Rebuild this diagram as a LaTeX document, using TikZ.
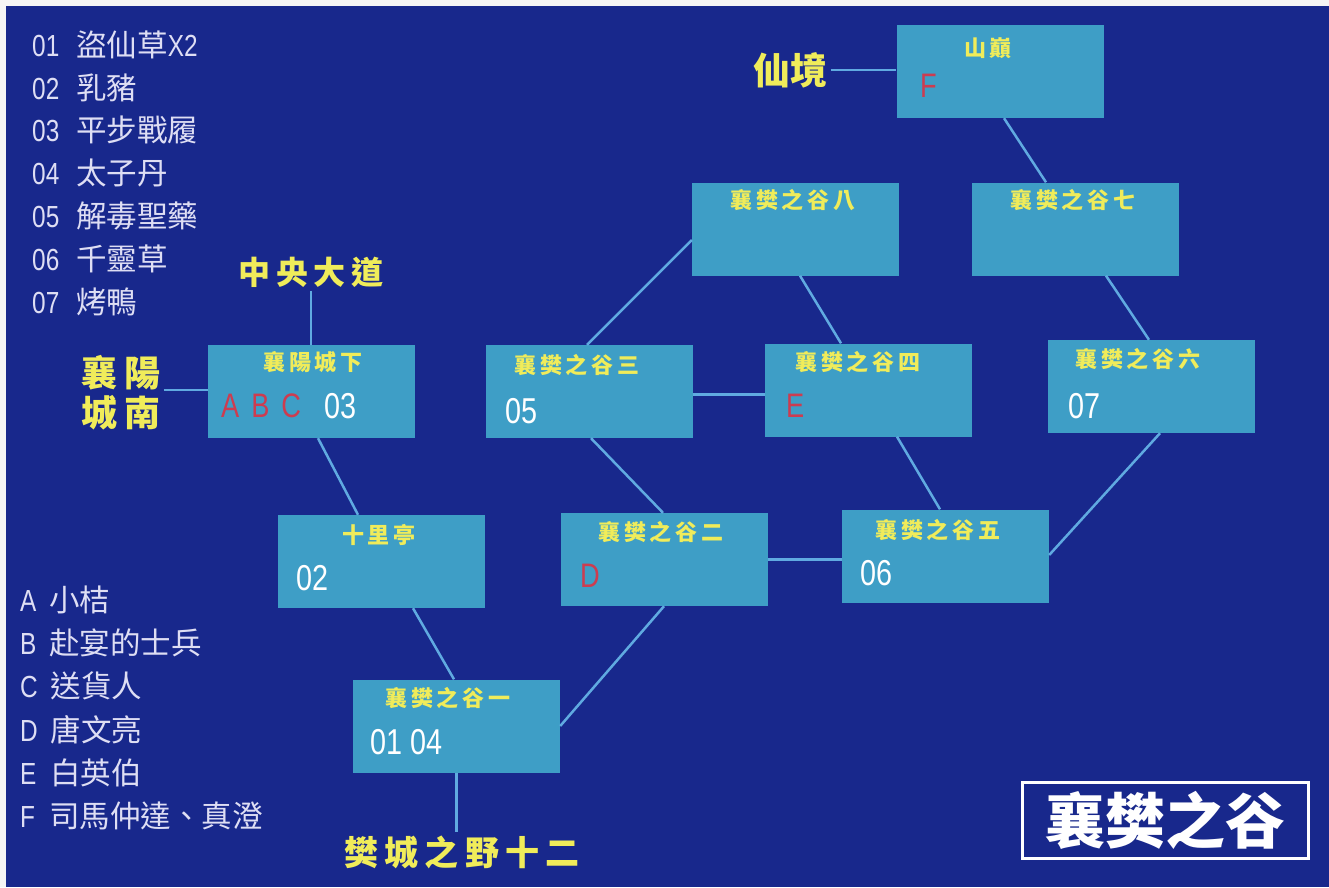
\documentclass[tikz,border=0pt]{standalone}
\usepackage{fontspec}
\setmainfont{Noto Sans CJK TC}
\newfontfamily\spaced[LetterSpace=18]{Noto Sans CJK TC}
\newfontfamily\narrow[FakeStretch=0.8]{Liberation Sans}
\usetikzlibrary{positioning}

\definecolor{bgblue}{RGB}{24,40,140}
\definecolor{boxblue}{RGB}{62,158,198}
\definecolor{linkblue}{RGB}{96,170,225}
\definecolor{gold}{RGB}{240,236,90}
\definecolor{pale}{RGB}{222,222,244}
\definecolor{tagred}{RGB}{205,60,80}

\tikzset{
  room/.style={fill=boxblue, minimum width=207pt, minimum height=93pt, inner sep=0pt},
  ttl/.style={text=gold, inner sep=0pt, font=\spaced\bfseries\fontsize{22}{22}\selectfont},
  num/.style={text=white, anchor=west, inner sep=0pt, font=\narrow\fontsize{36}{36}\selectfont},
  tag/.style={text=tagred, anchor=west, inner sep=0pt, font=\narrow\fontsize{34}{34}\selectfont},
  place/.style={text=gold, font=\spaced\bfseries\fontsize{32}{32}\selectfont},
  legend/.style={text=pale, anchor=west, inner sep=0pt, font=\fontsize{30.5}{30.5}\selectfont}
}
\tikzset{link/.style={draw=linkblue, line width=2.5pt}}

\begin{document}
\begin{tikzpicture}[x=1pt,y=-1pt]
\fill[gray!8] (0,0) rectangle (1329,887);
\fill[bgblue] (6,6) rectangle (1329,887);
\useasboundingbox (0,0) rectangle (1329,887);

% item list
\node[legend] (i1) at (32,45)  {{\narrow 01}\hspace{17pt}盜仙草{\narrow X2}};
\node[legend] (i2) at (32,88)  {{\narrow 02}\hspace{17pt}乳豬};
\node[legend] (i3) at (32,130) {{\narrow 03}\hspace{17pt}平步戰履};
\node[legend] (i4) at (32,173) {{\narrow 04}\hspace{17pt}太子丹};
\node[legend] (i5) at (32,216) {{\narrow 05}\hspace{17pt}解毒聖藥};
\node[legend] (i6) at (32,259) {{\narrow 06}\hspace{17pt}千靈草};
\node[legend] (i7) at (32,302) {{\narrow 07}\hspace{17pt}烤鴨};

% people list
\node[legend] (pA) at (20,600) {{\narrow A}\hspace{13pt}小桔};
\node[legend] (pB) at (20,643) {{\narrow B}\hspace{13pt}赴宴的士兵};
\node[legend] (pC) at (20,686) {{\narrow C}\hspace{13pt}送貨人};
\node[legend] (pD) at (20,730) {{\narrow D}\hspace{13pt}唐文亮};
\node[legend] (pE) at (20,773) {{\narrow E}\hspace{14pt}白英伯};
\node[legend] (pF) at (20,816) {{\narrow F}\hspace{14pt}司馬仲達、真澄};

% rooms
\node[room] (shan) at (1000,71.5) {};
\node[room] (gu8)  at (795.5,229) {};
\node[room] (gu7)  at (1075,229) {};
\node[room] (xyc)  at (311.5,391.5) {};
\node[room] (gu3)  at (589,391.5) {};
\node[room] (gu4)  at (868.5,390) {};
\node[room] (gu6)  at (1151,386.5) {};
\node[room] (slt)  at (381.5,561.5) {};
\node[room] (gu2)  at (664,559.5) {};
\node[room] (gu5)  at (945.5,556) {};
\node[room] (gu1)  at (456.5,726) {};

% room titles
\node[ttl] (shanT) at (988,48)  {山巔};
\node[ttl] (gu8T)  at (793,200) {襄樊之谷八};
\node[ttl] (gu7T)  at (1073,200) {襄樊之谷七};
\node[ttl] (xycT)  at (313,362) {襄陽城下};
\node[ttl] (gu3T)  at (577,365) {襄樊之谷三};
\node[ttl] (gu4T)  at (858,362) {襄樊之谷四};
\node[ttl] (gu6T)  at (1138,359) {襄樊之谷六};
\node[ttl] (sltT)  at (379,535) {十里亭};
\node[ttl] (gu2T)  at (661,532) {襄樊之谷二};
\node[ttl] (gu5T)  at (938,530) {襄樊之谷五};
\node[ttl] (gu1T)  at (448,698) {襄樊之谷一};

% room contents
\node[tag] (shanF) at (920,86)  {F};
\node[tag] (xycABC) at (221,406) {A\hspace{12pt}B\hspace{12pt}C};
\node[num] (xyc03) at (324,406) {03};
\node[num] (gu3N)  at (505,411) {05};
\node[tag] (gu4E)  at (786,406) {E};
\node[num] (gu6N)  at (1068,406) {07};
\node[num] (sltN)  at (296,578) {02};
\node[tag] (gu2D)  at (580,576) {D};
\node[num] (gu5N)  at (860,573) {06};
\node[num] (gu1N)  at (370,742) {01\hspace{8pt}04};

% exits
\node[place] (zhongyang) at (311,272) {中央大道};
\node[place, align=center, font=\spaced\bfseries\fontsize{36}{40}\selectfont] (xyn) at (121,393) {襄陽\\城南};
\node[place, font=\bfseries\fontsize{37}{37}\selectfont] (xianjing) at (790,70) {仙境};
\node[place, font=\spaced\bfseries\fontsize{34}{34}\selectfont] (fancheng) at (462,852) {樊城之野十二};

\draw[link] (zhongyang.south) -- (zhongyang.south |- xyc.north);
\draw[link] ([yshift=3pt]xyn.east) -- ([yshift=3pt]xyn.east -| xyc.west);
\draw[link] (xianjing.east) -- (xianjing.east -| shan.west);
\draw[link] (gu1.south) -- (gu1.south |- fancheng.north);

\draw[link] ([xshift=4pt]shan.south) -- ([xshift=-29pt]gu7.north);
\draw[link] ([yshift=-11pt]gu8.west) -- ([xshift=-2pt]gu3.north);
\draw[link] ([xshift=4.5pt]gu8.south) -- ([xshift=-27.5pt]gu4.north);
\draw[link] ([xshift=31pt]gu7.south) -- ([xshift=-2pt]gu6.north);
\draw[link] ([yshift=-3pt]gu3.east) -- ([yshift=-3pt]gu3.east -| gu4.west);
\draw[link] ([xshift=2pt]gu3.south) -- ([xshift=-1pt]gu2.north);
\draw[link] ([xshift=28.5pt]gu4.south) -- ([xshift=-5.5pt]gu5.north);
\draw[link] (gu2.east) -- (gu2.east -| gu5.west);
\draw[link] ([yshift=1pt]gu5.east) -- ([xshift=9pt]gu6.south);
\draw[link] (gu2.south) -- (gu1.east);
\draw[link] ([xshift=6.5pt]xyc.south) -- ([xshift=-23.5pt]slt.north);
\draw[link] ([xshift=31.5pt]slt.south) -- ([xshift=-2.5pt]gu1.north);

% banner
\node[draw=white, line width=3pt, minimum width=286pt, minimum height=76pt, text=white,
  font=\bfseries\fontsize{60}{60}\selectfont] (banner) at (1165,820) {襄樊之谷};
\end{tikzpicture}
\end{document}
